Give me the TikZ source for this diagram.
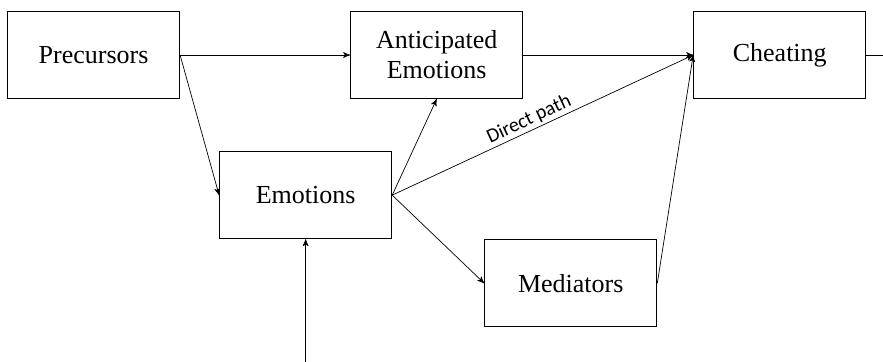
\documentclass[tikz,border=0pt]{standalone}
\usepackage{fontspec}
\setmainfont{Liberation Serif}
\newfontfamily\labelfont{Carlito}
\usetikzlibrary{arrows, positioning, calc}

\tikzset{
	box/.style={draw, line width=0.55pt, minimum width=86pt, minimum height=43.5pt, inner sep=2pt, align=center, font=\fontsize{13}{15}\selectfont},
	link/.style={line width=0.35pt}
}

\begin{document}
\begin{tikzpicture}[>=stealth',auto]
	
	%Knoten
	\node (prec) [box] {Precursors};
	\node (anti) [box, right=85pt of prec] {Anticipated\\Emotions};
	\node (cheat) [box, right=85pt of anti] {Cheating};
	\node (emo) [box, below right=26pt and 19.5pt of prec] {Emotions};
	\node (med) [box, below right=0pt and 46pt of emo] {Mediators};
	
	\coordinate (src) at ($(emo.south)+(0,-62pt)$);
	\coordinate (out) at ($(cheat.east)+(9pt,0)$);
	
	\useasboundingbox ($(prec.north west)+(-3.5pt,5.5pt)$) rectangle ++(441.5pt,-181pt);
	
	%Kanten
	\path[link,->]
	(prec.east) edge (anti.west)
	(prec.east) edge (emo.west)
	(emo.east) edge (anti.south)
	(emo.east) edge node [sloped, above, pos=0.47, inner sep=1pt, font=\labelfont\fontsize{10}{12}\selectfont] {Direct path} (cheat.west)
	(emo.east) edge (med.west)
	(med.east) edge (cheat.west)
	(anti.east) edge (cheat.west)
	(src) edge (emo.south);
	\draw[link] (cheat.east) -- (out);
	
\end{tikzpicture}
\end{document}
